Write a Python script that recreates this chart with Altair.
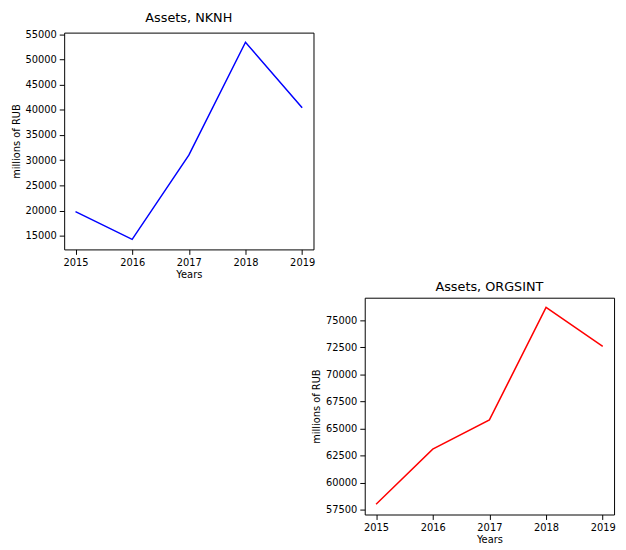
import altair as alt
import pandas as pd

years = [2015, 2016, 2017, 2018, 2019]
nknh = [19800, 14300, 31000, 53400, 40400]
orgsint = [58000, 63100, 65800, 76200, 72600]

def panel(vals, color, title, ydom, yticks):
    df = pd.DataFrame({'Year': years, 'Value': vals})
    return alt.Chart(df, title=alt.TitleParams(title, fontSize=13, fontWeight='normal', font='DejaVu Sans', offset=4)).mark_line(color=color, strokeWidth=1.5).encode(
        x=alt.X('Year:Q', title='Years', scale=alt.Scale(domain=[2014.8, 2019.2], nice=False),
                axis=alt.Axis(values=years, format='d', grid=False, titlePadding=2)),
        y=alt.Y('Value:Q', title='millions of RUB', scale=alt.Scale(domain=ydom, nice=False, zero=False),
                axis=alt.Axis(values=yticks, format='d', grid=False)),
    ).properties(width=253, height=220)

top = panel(nknh, 'blue', 'Assets, NKNH', [12300, 55300], list(range(15000, 55001, 5000)))
bottom = panel(orgsint, 'red', 'Assets, ORGSINT', [57050, 77100], [57500 + 2500 * i for i in range(8)])

blank = alt.Chart(pd.DataFrame({'a': [0]})).mark_point(opacity=0).encode(
    x=alt.X('a:Q', axis=None), y=alt.Y('a:Q', axis=None)
).properties(width=250, height=220, view=alt.ViewBackground(strokeOpacity=0))

chart = alt.vconcat(top, alt.hconcat(blank, bottom, spacing=0), spacing=0).properties(
    padding={'left': 2, 'top': 0, 'right': 2, 'bottom': 0}
).configure_view(
    stroke='black'
).configure_axis(
    labelFont='DejaVu Sans', titleFont='DejaVu Sans', labelFontSize=10, titleFontSize=10,
    titleFontWeight='normal', labelColor='black', titleColor='black', tickColor='black',
    domain=False, labelPadding=3
)

chart.save("out.html", embed_options={"renderer": "svg", "actions": False})
